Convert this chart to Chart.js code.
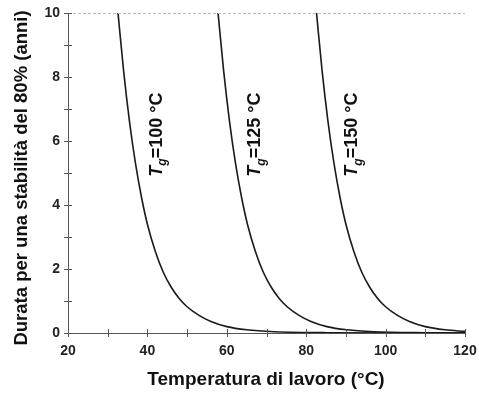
<!DOCTYPE html>
<html>
<head>
<meta charset="utf-8">
<script src="https://cdn.jsdelivr.net/npm/chart.js@4/dist/chart.umd.min.js"></script>
<style>
  html, body { margin: 0; padding: 0; background: #fff; }
  #wrap { width: 479px; height: 394px; }
</style>
</head>
<body>
<div id="wrap"><canvas id="chart"></canvas></div>
<script>
// values
const temps100  = [32.6, 34, 35.5, 37, 38.5, 40, 42, 44, 46, 48, 50, 53, 56, 60, 65, 72, 85, 120]
const durata100 = [10, 8.2, 6.6, 5.3, 4.25, 3.4, 2.55, 1.9, 1.43, 1.08, 0.82, 0.55, 0.36, 0.2, 0.1, 0.04, 0.01, 0]
const temps125  = [57.8, 59.2, 60.7, 62.2, 63.7, 65.2, 67.2, 69.2, 71.2, 73.2, 75.2, 78.2, 81.2, 85.2, 90.2, 97, 110, 120]
const durata125 = [10, 8.2, 6.6, 5.3, 4.25, 3.4, 2.55, 1.9, 1.43, 1.08, 0.82, 0.55, 0.36, 0.2, 0.1, 0.04, 0.01, 0.005]
const temps150  = [82.6, 84, 85.5, 87, 88.5, 90, 92, 94, 96, 98, 100, 103, 106, 110, 115, 120]
const durata150 = [10, 8.2, 6.6, 5.3, 4.25, 3.4, 2.55, 1.9, 1.43, 1.08, 0.82, 0.55, 0.36, 0.2, 0.1, 0.05]

const curveLabels = ['=100 °C', '=125 °C', '=150 °C']
const labelAt = [[42.4, 6.2], [67.2, 6.2], [91.6, 6.2]]

const xTitle = 'Temperatura di lavoro (°C)'
const yTitle = 'Durata per una stabilità del 80% (anni)'

const FONT = '"Liberation Sans", Arial, sans-serif'

function toPoints(xs, ys) {
  return xs.map((x, i) => ({x: x, y: ys[i]}))
}

function curve(xs, ys) {
  return {
    data: toPoints(xs, ys),
    showLine: true,
    borderColor: '#1a1a1a',
    borderWidth: 1.6,
    pointRadius: 0,
    cubicInterpolationMode: 'monotone',
    fill: false
  }
}

// extra drawing: dashed top line, ticks across the axes, titles, curve labels
const decorations = {
  id: 'decorations',
  afterDraw(chart) {
    const ctx = chart.ctx
    const xs = chart.scales.x, ys = chart.scales.y
    const a = chart.chartArea
    ctx.save()

    ctx.strokeStyle = '#bbb'
    ctx.lineWidth = 1
    ctx.setLineDash([3, 2])
    ctx.beginPath()
    ctx.moveTo(a.left, ys.getPixelForValue(10) + 0.5)
    ctx.lineTo(a.right, ys.getPixelForValue(10) + 0.5)
    ctx.stroke()
    ctx.setLineDash([])

    ctx.strokeStyle = '#555'
    ctx.beginPath()
    for (let v = 20; v <= 120; v += 10) {
      const px = Math.round(xs.getPixelForValue(v)) + 0.5
      ctx.moveTo(px, a.bottom - 4)
      ctx.lineTo(px, a.bottom + 4)
    }
    for (let v = 0; v <= 10; v += 1) {
      const py = Math.round(ys.getPixelForValue(v)) + 0.5
      ctx.moveTo(a.left - 4, py)
      ctx.lineTo(a.left + 4, py)
    }
    ctx.stroke()

    ctx.fillStyle = '#111'
    ctx.textAlign = 'center'
    ctx.textBaseline = 'middle'
    ctx.font = 'bold 19px ' + FONT
    ctx.fillText(xTitle, 266, 380)

    ctx.save()
    ctx.translate(22, 178)
    ctx.rotate(-Math.PI / 2)
    ctx.font = 'bold 18.5px ' + FONT
    ctx.fillText(yTitle, 0, 0)
    ctx.restore()

    curveLabels.forEach((txt, i) => {
      const cx = xs.getPixelForValue(labelAt[i][0])
      const cy = ys.getPixelForValue(labelAt[i][1])
      ctx.save()
      ctx.translate(cx, cy)
      ctx.rotate(-Math.PI / 2)
      ctx.textAlign = 'left'
      const fT = 'italic bold 18px ' + FONT
      const fg = 'italic bold 12px ' + FONT
      const fR = 'bold 18px ' + FONT
      ctx.font = fT; const wT = ctx.measureText('T').width
      ctx.font = fg; const wg = ctx.measureText('g').width
      ctx.font = fR; const wR = ctx.measureText(txt).width
      let x = -(wT + wg + wR) / 2
      ctx.font = fT; ctx.fillText('T', x, 0); x += wT
      ctx.font = fg; ctx.fillText('g', x, 6); x += wg
      ctx.font = fR; ctx.fillText(txt, x, 0)
      ctx.restore()
    })
    ctx.restore()
  }
}

new Chart(document.getElementById('chart').getContext('2d'), {
  type: 'scatter',
  data: {
    datasets: [
      curve(temps100, durata100),
      curve(temps125, durata125),
      curve(temps150, durata150)
    ]
  },
  options: {
    responsive: true,
    maintainAspectRatio: false,
    animation: false,
    layout: {padding: {top: 13, right: 14, left: 0, bottom: 0}},
    plugins: {
      legend: {display: false},
      tooltip: {enabled: false}
    },
    scales: {
      x: {
        type: 'linear',
        min: 20,
        max: 120,
        afterFit: (s) => { s.height = 61; s.paddingLeft = 0; s.paddingRight = 0 },
        grid: {display: false, drawTicks: false},
        border: {display: true, color: '#555', width: 1},
        ticks: {
          stepSize: 10,
          padding: 10,
          color: '#222',
          font: {family: FONT, size: 14, weight: 'bold'},
          callback: (v) => v % 20 === 0 ? v : ''
        }
      },
      y: {
        min: 0,
        max: 10,
        afterFit: (s) => { s.width = 68; s.paddingTop = 0; s.paddingBottom = 0 },
        grid: {display: false, drawTicks: false},
        border: {display: true, color: '#555', width: 1},
        ticks: {
          stepSize: 1,
          padding: 8,
          color: '#222',
          font: {family: FONT, size: 14, weight: 'bold'},
          callback: (v) => v % 2 === 0 ? v : ''
        }
      }
    }
  },
  plugins: [decorations]
})
</script>
</body>
</html>
